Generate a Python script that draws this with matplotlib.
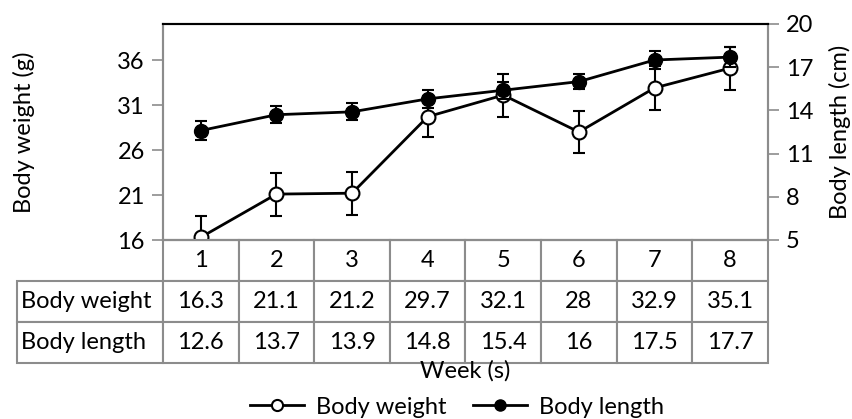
import matplotlib
matplotlib.use("Agg")
import matplotlib.pyplot as plt
from matplotlib.lines import Line2D

plt.rcParams['font.family'] = ['Lato', 'DejaVu Sans']

weeks = [1, 2, 3, 4, 5, 6, 7, 8]
body_weight = [16.3, 21.1, 21.2, 29.7, 32.1, 28, 32.9, 35.1]
weight_err = [2.4, 2.4, 2.4, 2.3, 2.4, 2.3, 2.4, 2.4]
body_length = [12.6, 13.7, 13.9, 14.8, 15.4, 16, 17.5, 17.7]
length_err = [0.65, 0.6, 0.6, 0.6, 0.6, 0.5, 0.6, 0.7]
weight_ticks = [16, 21, 26, 31, 36]
length_ticks = [5, 8, 11, 14, 17, 20]

GRAY = '#8c8c8c'
FS = 17

W, H = 853, 419
fig = plt.figure(figsize=(W / 100, H / 100), dpi=100)
left, right, top, bottom = 163, 768, 24, 240
pw = right - left
ax = fig.add_axes([left / W, 1 - bottom / H, pw / W, (bottom - top) / H])
ax2 = ax.twinx()

ax.errorbar(weeks, body_weight, yerr=weight_err, color='black', lw=2,
            marker='o', ms=10, mfc='white', mec='black', mew=1.5,
            capsize=4.5, capthick=1.5, elinewidth=1.5, zorder=3)
ax2.errorbar(weeks, body_length, yerr=length_err, color='black', lw=2,
             marker='o', ms=10, mfc='black', mec='black',
             capsize=4.5, capthick=1.5, elinewidth=1.5, zorder=3)

ax.set_xlim(0.5, 8.5)
ax.set_ylim(16, 40)
ax2.set_ylim(5, 20)
ax.set_yticks(weight_ticks)
ax2.set_yticks(length_ticks)
ax.set_xticks([])

for a in (ax, ax2):
    for s in ('left', 'right', 'bottom'):
        a.spines[s].set_color(GRAY)
        a.spines[s].set_linewidth(1.5)
    a.spines['top'].set_color('black')
    a.spines['top'].set_linewidth(1.5)
    a.tick_params(axis='y', colors='black', labelsize=FS, length=8, width=1.2,
                  color=GRAY, pad=5)

ax.set_ylabel('Body weight (g)', fontsize=FS)
ax2.set_ylabel('Body length (cm)', fontsize=FS)
ax.yaxis.set_label_coords(-128 / pw, 0.5)
ax2.yaxis.set_label_coords(1 + 61 / pw, 0.5)

# data table under the plot: first column holds the row names
row_labels = ['Body weight', 'Body length']
cell_text = [[row_labels[0]] + [f'{v:g}' for v in body_weight],
             [row_labels[1]] + [f'{v:g}' for v in body_length]]
col_labels = [''] + [str(w) for w in weeks]
label_w = (left - 17) / pw
tbl_h = (363 - bottom) / (bottom - top)
tbl = ax.table(cellText=cell_text, colLabels=col_labels,
               colWidths=[label_w] + [1 / 8] * 8, cellLoc='center',
               bbox=[-label_w, -tbl_h, 1 + label_w, tbl_h])
tbl.auto_set_font_size(False)
tbl.set_fontsize(FS)
for (r, c), cell in tbl.get_celld().items():
    cell.set_edgecolor(GRAY)
    cell.set_linewidth(1.5)
    cell.PAD = 0.03
    if c == 0:
        cell.get_text().set_horizontalalignment('left')
        if r == 0:
            cell.visible_edges = ''

fig.text((left + right) / 2 / W, 1 - 371 / H, 'Week (s)', fontsize=FS,
         ha='center', va='center')

handles = [
    Line2D([], [], color='black', lw=2, marker='o', ms=8, mfc='white', mec='black', mew=1.5),
    Line2D([], [], color='black', lw=2, marker='o', ms=8, mfc='black', mec='black'),
]
fig.legend(handles, ['Body weight', 'Body length'], loc='center', ncol=2,
           bbox_to_anchor=(457 / W, 1 - 407 / H), frameon=False, fontsize=FS,
           handlelength=2.3, columnspacing=1.1, handletextpad=0.5,
           borderpad=0, borderaxespad=0)

fig.savefig('out.png', dpi=100)
